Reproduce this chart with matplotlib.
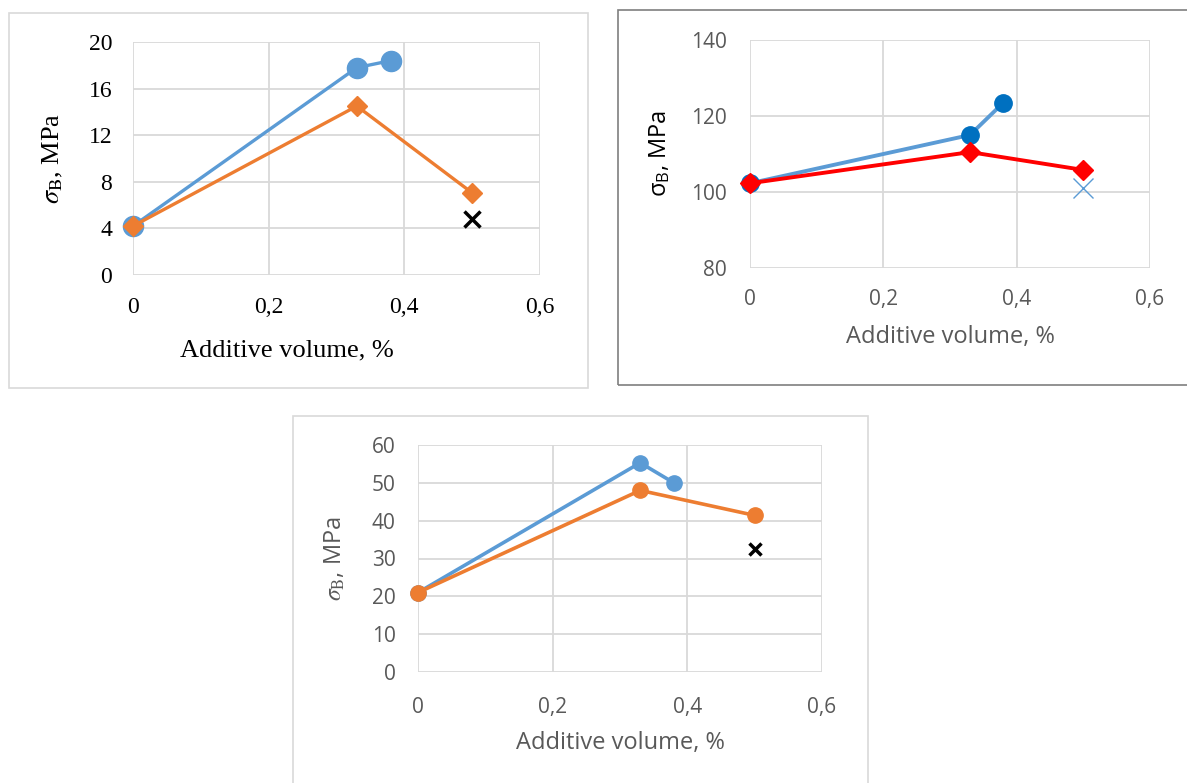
import matplotlib
matplotlib.use("Agg")
import matplotlib.pyplot as plt
from matplotlib.patches import Rectangle

# ---------------- data ----------------
x_ticks = [0, 0.2, 0.4, 0.6]
x_ticklabels = ["0", "0,2", "0,4", "0,6"]

# Panel 1
p1_blue_x = [0, 0.33, 0.38]
p1_blue_y = [4.2, 17.8, 18.4]
p1_orange_x = [0, 0.33, 0.5]
p1_orange_y = [4.2, 14.5, 7.05]
p1_cross_x = [0.5]
p1_cross_y = [4.8]
p1_yticks = [0, 4, 8, 12, 16, 20]

# Panel 2
p2_blue_x = [0, 0.33, 0.38]
p2_blue_y = [102.3, 115.0, 123.5]
p2_red_x = [0, 0.33, 0.5]
p2_red_y = [102.3, 110.5, 105.8]
p2_cross_x = [0.5]
p2_cross_y = [101.0]
p2_yticks = [80, 100, 120, 140]

# Panel 3
p3_blue_x = [0, 0.33, 0.38]
p3_blue_y = [21.0, 55.3, 50.0]
p3_orange_x = [0, 0.33, 0.5]
p3_orange_y = [21.0, 48.0, 41.4]
p3_cross_x = [0.5]
p3_cross_y = [32.6]
p3_yticks = [0, 10, 20, 30, 40, 50, 60]

xlabel = "Additive volume, %"

BLUE = "#5b9bd5"
ORANGE = "#ed7d31"
DBLUE = "#0070c0"
RED = "#ff0000"
GRID = "#d9d9d9"
TXT = "#595959"

W, H = 1187, 783
fig = plt.figure(figsize=(W / 100, H / 100), dpi=100)
fig.patch.set_facecolor("white")


def px_axes(l, t, r, b):
    return fig.add_axes([l / W, 1 - b / H, (r - l) / W, (b - t) / H])


def border(l, t, r, b, color, lw=1.2):
    fig.patches.append(Rectangle((l / W, 1 - b / H), (r - l) / W, (b - t) / H,
                                 transform=fig.transFigure, fill=False,
                                 edgecolor=color, linewidth=lw))


def style(ax, yticks, family, tcolor, fs):
    ax.set_xlim(0, 0.6)
    ax.set_ylim(yticks[0], yticks[-1])
    ax.set_xticks(x_ticks)
    ax.set_xticklabels(x_ticklabels)
    ax.set_yticks(yticks)
    ax.set_yticklabels([str(v) for v in yticks])
    ax.grid(True, color=GRID, linewidth=1.3)
    ax.set_axisbelow(True)
    for s in ax.spines.values():
        s.set_visible(False)
    ax.tick_params(length=0, labelsize=fs, colors=tcolor)
    for lab in ax.get_xticklabels() + ax.get_yticklabels():
        lab.set_family(family)


def place_xlabel(ax, fx, fy):
    ax.xaxis.set_label_coords(fx, fy)
    ax.xaxis.label.set_va("center")


# ---------------- panel 1 ----------------
border(9, 13, 588, 388, GRID)
ax1 = px_axes(133, 42, 540, 275)
style(ax1, p1_yticks, "Liberation Serif", "black", 17)
ax1.tick_params(axis="x", pad=16)
ax1.tick_params(axis="y", pad=15)
ax1.plot(p1_blue_x, p1_blue_y, color=BLUE, lw=2.4, marker="o", ms=14.5, zorder=3, clip_on=False)
ax1.plot(p1_orange_x, p1_orange_y, color=ORANGE, lw=2.4, marker="D", ms=10, zorder=4, clip_on=False)
ax1.plot(p1_cross_x, p1_cross_y, ls="none", marker="x", color="black", ms=12, mew=2.5, zorder=5)
ax1.set_xlabel(xlabel, family="Liberation Serif", fontsize=19, color="black")
place_xlabel(ax1, 0.377, -0.322)
ax1.set_ylabel(r"$\sigma_{\rm B}$, MPa", family="Liberation Serif", fontsize=19,
               color="black", math_fontfamily="stix")
ax1.yaxis.set_label_coords(-0.167, 0.5)

# ---------------- panel 2 ----------------
border(618, 10, 1190, 385, "#7f7f7f")
ax2 = px_axes(750, 40, 1150, 268)
style(ax2, p2_yticks, "Open Sans", TXT, 15)
ax2.tick_params(axis="x", pad=15)
ax2.tick_params(axis="y", pad=16.5)
ax2.plot(p2_blue_x, p2_blue_y, color=BLUE, lw=2.8, marker="o", ms=12.5,
         mfc=DBLUE, mec=DBLUE, zorder=3, clip_on=False)
ax2.plot(p2_red_x, p2_red_y, color=RED, lw=2.8, marker="D", ms=10, zorder=4, clip_on=False)
ax2.plot(p2_cross_x, p2_cross_y, ls="none", marker="x", color=BLUE, ms=15, mew=1.0, zorder=5)
ax2.set_xlabel(xlabel, family="Open Sans", fontsize=17, color=TXT)
place_xlabel(ax2, 0.5, -0.303)
ax2.set_ylabel(r"$\mathregular{\sigma_B}$, MPa", family="Open Sans", fontsize=17,
               color="black")
ax2.yaxis.set_label_coords(-0.195, 0.5)

# ---------------- panel 3 ----------------
border(293, 416, 868, 790, GRID)
ax3 = px_axes(418, 445, 822, 672)
style(ax3, p3_yticks, "Open Sans", TXT, 15)
ax3.tick_params(axis="x", pad=18)
ax3.tick_params(axis="y", pad=16)
ax3.plot(p3_blue_x, p3_blue_y, color=BLUE, lw=2.6, marker="o", ms=11, zorder=3, clip_on=False)
ax3.plot(p3_orange_x, p3_orange_y, color=ORANGE, lw=2.6, marker="o", ms=11, zorder=4, clip_on=False)
ax3.plot(p3_cross_x, p3_cross_y, ls="none", marker="x", color="black", ms=9, mew=2.5, zorder=5)
ax3.set_xlabel(xlabel, family="Open Sans", fontsize=17, color=TXT)
place_xlabel(ax3, 0.5, -0.313)
ax3.set_ylabel(r"$\sigma_{\rm B}$, MPa", family="Open Sans", fontsize=17,
               color=TXT, math_fontfamily="stix")
ax3.yaxis.set_label_coords(-0.173, 0.5)

fig.savefig("out.png", dpi=100, facecolor="white")
